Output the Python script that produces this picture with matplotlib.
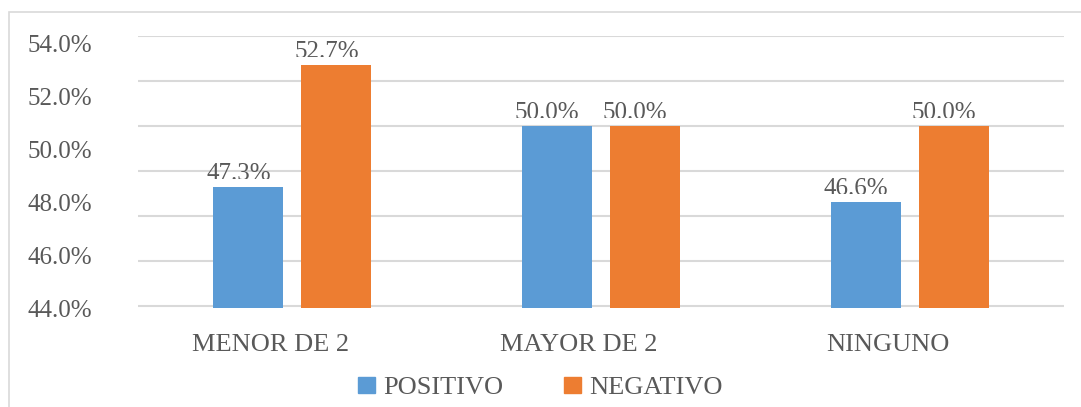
import numpy as np
import matplotlib
matplotlib.use("Agg")
import matplotlib.pyplot as plt
from matplotlib.patches import Rectangle, Patch
from matplotlib.ticker import FixedLocator
from matplotlib.transforms import Bbox, ScaledTranslation

# data
categories = ["MENOR DE 2", "MAYOR DE 2", "NINGUNO"]
positivo = [47.3, 50.0, 46.6]
negativo = [52.7, 50.0, 50.0]
series_names = ["POSITIVO", "NEGATIVO"]
ytick_labels = ["44.0%", "46.0%", "48.0%", "50.0%", "52.0%", "54.0%"]

BLUE = "#5B9BD5"
ORANGE = "#ED7D31"
TXT = "#595959"
GRID = "#D9D9D9"

plt.rcParams["font.family"] = ["Liberation Serif", "DejaVu Serif"]

W, H = 1081, 407
fig = plt.figure(figsize=(W / 100, H / 100), dpi=100)
ax = fig.add_axes([138 / W, 99 / H, 926 / W, 272 / H])

# chart frame (cut off on the right and bottom)
fig.patches.append(Rectangle((9 / W, -0.2), 1.3, 1.2 - 12 / H,
                             transform=fig.transFigure, fill=False,
                             edgecolor=GRID, lw=1.2))

x = np.arange(len(categories))
bw = 0.227
off = 0.1426
b1 = ax.bar(x - off, positivo, bw, color=BLUE, zorder=2)
b2 = ax.bar(x + off, negativo, bw, color=ORANGE, zorder=2)

ax.set_xlim(-0.5, 2.5)
ax.set_ylim(42, 54)

# gridlines every 2 %, axis labels drawn where the original put them
ax.yaxis.set_minor_locator(FixedLocator(np.arange(42, 54.1, 2)))
ax.grid(True, which="minor", axis="y", color=GRID, lw=1.5, zorder=0)
ax.set_yticks(np.linspace(41.91, 53.66, len(ytick_labels)))
ax.set_yticklabels(ytick_labels)
ax.tick_params(axis="y", which="both", length=0, pad=33, labelsize=18,
               labelcolor=TXT)

ax.set_xticks(x)
ax.set_xticklabels(categories)
ax.tick_params(axis="x", length=0, pad=19, labelsize=19, labelcolor=TXT)
shift = ScaledTranslation(-22 / 100, 0, fig.dpi_scale_trans)
for lab in ax.get_xticklabels():
    lab.set_transform(lab.get_transform() + shift)

for s in ax.spines.values():
    s.set_visible(False)

# value labels, bottoms slightly cut like in the original
for bars, vals in ((b1, positivo), (b2, negativo)):
    for r, v in zip(bars, vals):
        t = ax.annotate(f"{v:.1f}%", (r.get_x() + r.get_width() / 2, r.get_height()),
                        xytext=(-10, 2), textcoords="offset pixels",
                        ha="center", va="bottom", fontsize=18, color=TXT)
        ytop = ax.transData.transform((0, v))[1]
        t.set_clip_box(Bbox.from_extents(0, ytop + 8, W, H))

handles = [Patch(color=BLUE), Patch(color=ORANGE)]
fig.legend(handles, series_names, loc="center", bbox_to_anchor=(540 / W, 1 - 388 / H),
           ncol=2, frameon=False, fontsize=19, labelcolor=TXT,
           handlelength=0.65, handleheight=0.55, handletextpad=0.3,
           columnspacing=2.3, borderpad=0)

fig.savefig("out.png", dpi=100)
